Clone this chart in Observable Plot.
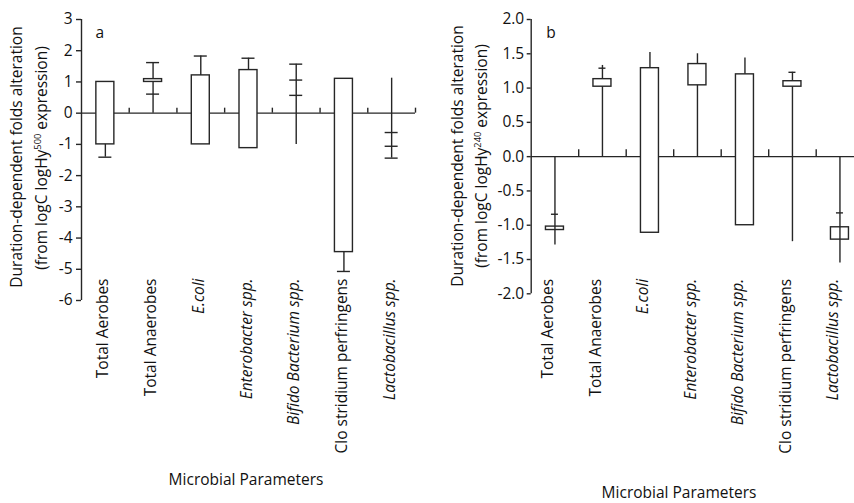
<!DOCTYPE html>
<html><head><meta charset="utf-8">
<script src="https://cdn.jsdelivr.net/npm/d3@7"></script>
<script src="https://cdn.jsdelivr.net/npm/@observablehq/plot@0.6"></script>
<style>
html,body{margin:0;padding:0;background:#fff;overflow:hidden;}
#wrap{position:relative;width:854px;height:503px;overflow:hidden;font-family:"Open Sans",sans-serif;color:#111;}
.panel{position:absolute;top:0;}
.t{position:absolute;white-space:nowrap;font-size:15.5px;line-height:1;}
.rot{transform:translate(-50%,-50%) rotate(-90deg);}
.ctr{transform:translate(-50%,-50%);}
sup{font-size:0.6em;vertical-align:0.65em;line-height:0;}
</style></head><body><div id="wrap"></div>
<script>
const categories = ["Total Aerobes","Total Anaerobes","E.coli","Enterobacter spp.","Bifido Bacterium spp.","Clo stridium perfringens","Lactobacillus spp."];
const italicCategories = ["E.coli","Enterobacter spp.","Bifido Bacterium spp.","Lactobacillus spp."];

// Panel a
const aYTicks = [-6,-5,-4,-3,-2,-1,0,1,2,3];
const aBoxLow  = [-1.0, 1.0, -1.0, -1.12, null, -4.45, null];
const aBoxHigh = [ 1.0, 1.09, 1.21, 1.38, null, 1.1, null];
const aSegCat  = [0, 1, 1, 2, 3, 4, 5, 6];
const aSegLow  = [-1.41, 0, 1.09, 1.21, 1.38, -1.0, -5.07, -1.44];
const aSegHigh = [-1.0, 1.0, 1.62, 1.83, 1.76, 1.57, -4.45, 1.12];
const aCapCat  = [0, 1, 1, 2, 3, 4, 4, 4, 5, 6, 6, 6];
const aCapVal  = [-1.41, 1.62, 0.61, 1.83, 1.76, 1.57, 1.06, 0.57, -5.07, -0.62, -1.06, -1.44];

// Panel b
const bYTicks = [-2.0,-1.5,-1.0,-0.5,0.0,0.5,1.0,1.5,2.0];
const bBoxLow  = [-1.07, 1.02, -1.11, 1.04, -1.0, 1.02, -1.21];
const bBoxHigh = [-1.02, 1.13, 1.29, 1.35, 1.2, 1.1, -1.03];
const bSegCat  = [0, 1, 1, 2, 3, 3, 4, 5, 5, 6];
const bSegLow  = [-1.29, 0, 1.13, 1.29, 0, 1.35, 1.2, -1.24, 1.1, -1.55];
const bSegHigh = [0, 1.02, 1.33, 1.52, 1.04, 1.5, 1.44, 1.02, 1.23, 0];
const bCapCat  = [0, 1, 5, 6];
const bCapVal  = [-0.84, 1.29, 1.23, -0.82];

const INK = "#262626";
const TXT = "#111";
const FS = 15.5;

function makePanel(cfg) {
  const bw = (cfg.width - cfg.marginLeft - cfg.marginRight) / categories.length;
  const boxes = categories.map((c, i) => ({cat: c, lo: cfg.boxLow[i], hi: cfg.boxHigh[i]}))
    .filter(d => d.lo != null && d.hi != null);
  const segs = cfg.segCat.map((ci, i) => ({cat: categories[ci], lo: cfg.segLow[i], hi: cfg.segHigh[i]}));
  const caps = cfg.capCat.map((ci, i) => ({cat: categories[ci], v: cfg.capVal[i]}));
  const regular = categories.filter(c => !italicCategories.includes(c));
  const italic = categories.filter(c => italicCategories.includes(c));
  const yd = cfg.yDomain;
  const sw = 1.4;
  return Plot.plot({
    width: cfg.width, height: 503,
    marginLeft: cfg.marginLeft, marginRight: cfg.marginRight,
    marginTop: cfg.marginTop, marginBottom: cfg.marginBottom,
    style: {fontFamily: "'Open Sans', sans-serif", fontSize: FS + "px", color: TXT, background: "transparent", overflow: "visible"},
    x: {type: "band", domain: categories, padding: 0, align: 0.5, round: false, axis: null},
    y: {domain: yd, axis: null},
    marks: [
      Plot.axisY(cfg.yTicks, {tickSize: cfg.tickSize, tickPadding: cfg.tickPadding, tickFormat: cfg.fmt, stroke: INK, strokeWidth: sw, fill: TXT, fontSize: FS, label: null}),
      Plot.ruleX([categories[0]], {dx: -bw / 2, y1: yd[0], y2: yd[1], stroke: INK, strokeWidth: sw}),
      Plot.ruleY([0], {stroke: INK, strokeWidth: sw}),
      Plot.ruleX(categories, {dx: bw / 2, y1: 0, y2: cfg.dividerLen, stroke: INK, strokeWidth: sw}),
      Plot.barY(boxes, {x: "cat", y1: "lo", y2: "hi", fill: "white", stroke: INK, strokeWidth: sw, insetLeft: (bw - cfg.boxW) / 2, insetRight: (bw - cfg.boxW) / 2}),
      Plot.ruleX(segs, {x: "cat", y1: "lo", y2: "hi", stroke: INK, strokeWidth: sw}),
      Plot.tickY(caps, {x: "cat", y: "v", stroke: INK, strokeWidth: sw, insetLeft: (bw - cfg.capW) / 2, insetRight: (bw - cfg.capW) / 2}),
      Plot.text(regular, {x: d => d, text: d => d, frameAnchor: "bottom", rotate: -90, textAnchor: "end", dy: cfg.labelDy, dx: cfg.labelDx, fontSize: FS, fill: TXT}),
      Plot.text(italic, {x: d => d, text: d => d, frameAnchor: "bottom", rotate: -90, textAnchor: "end", dy: cfg.labelDy, dx: cfg.labelDx, fontSize: FS, fontStyle: "italic", fill: TXT}),
      Plot.text([cfg.tag], {frameAnchor: "top-left", text: d => d, dx: cfg.tagDx, dy: 7, textAnchor: "start", fontSize: FS, fill: TXT})
    ]
  });
}

const wrap = document.getElementById("wrap");

const pa = makePanel({
  width: 430, marginLeft: 81, marginRight: 15, marginTop: 19, marginBottom: 203,
  yDomain: [-6, 3], yTicks: aYTicks, fmt: d => String(d), tickSize: 5, tickPadding: 4,
  boxLow: aBoxLow, boxHigh: aBoxHigh, segCat: aSegCat, segLow: aSegLow, segHigh: aSegHigh,
  capCat: aCapCat, capVal: aCapVal, dividerLen: 0.16, boxW: 18, capW: 13,
  labelDy: -22, labelDx: 3, tag: "a", tagDx: 14
});
pa.classList.add("panel"); pa.style.left = "0px";
wrap.appendChild(pa);

const pb = makePanel({
  width: 440, marginLeft: 100.7, marginRight: 6.8, marginTop: 19, marginBottom: 209.7,
  yDomain: [-2, 2], yTicks: bYTicks, fmt: d => d.toFixed(1), tickSize: 4, tickPadding: 3,
  boxLow: bBoxLow, boxHigh: bBoxHigh, segCat: bSegCat, segLow: bSegLow, segHigh: bSegHigh,
  capCat: bCapCat, capVal: bCapVal, dividerLen: 0.1, boxW: 18, capW: 7,
  labelDy: -15, labelDx: -1.5, tag: "b", tagDx: 15
});
pb.classList.add("panel"); pb.style.left = "430px";
wrap.appendChild(pb);

function addText(html, x, y, cls) {
  const d = document.createElement("div");
  d.className = "t " + cls;
  d.style.left = x + "px"; d.style.top = y + "px";
  d.innerHTML = html;
  wrap.appendChild(d);
}
addText("Duration-dependent folds alteration", 17, 156.5, "rot");
addText("(from logC logHy<sup>500</sup> expression)", 42, 157.5, "rot");
addText("Duration-dependent folds alteration", 458, 156, "rot");
addText("(from logC logHy<sup>240</sup> expression)", 482, 156, "rot");
addText("Microbial Parameters", 246, 480, "ctr");
addText("Microbial Parameters", 679, 493, "ctr");
</script></body></html>
